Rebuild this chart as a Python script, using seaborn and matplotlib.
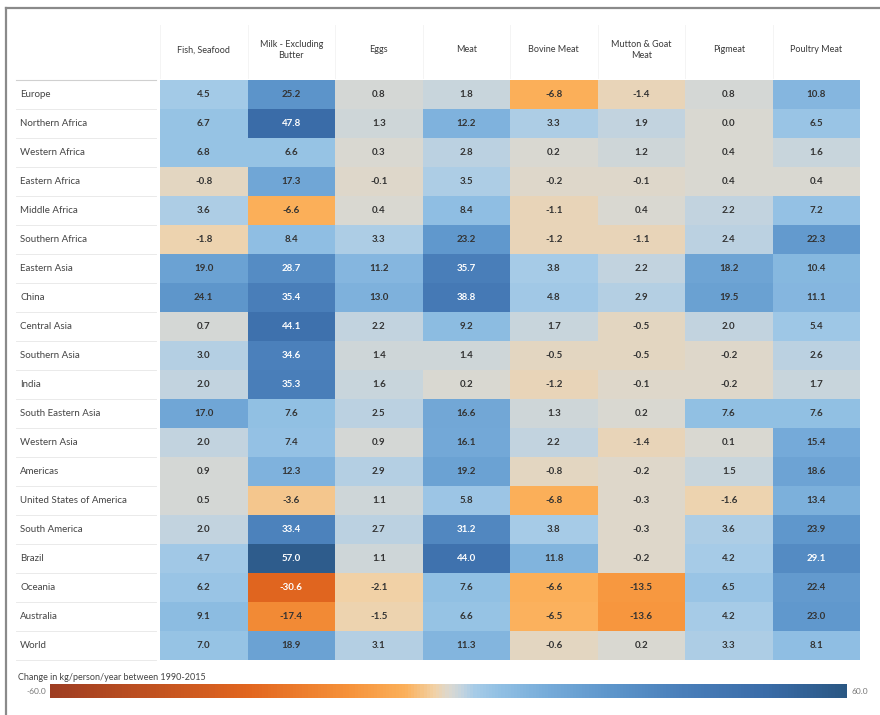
"""
Change in food supply (kg/person/year) 1990-2015, heatmap
"""
import numpy as np
import pandas as pd
import matplotlib
matplotlib.use('Agg')
import matplotlib.pyplot as plt
import seaborn as sns
from matplotlib.colors import LinearSegmentedColormap
from matplotlib.lines import Line2D
import matplotlib.transforms as mtransforms

regions = ['Europe', 'Northern Africa', 'Western Africa', 'Eastern Africa', 'Middle Africa',
           'Southern Africa', 'Eastern Asia', 'China', 'Central Asia', 'Southern Asia', 'India',
           'South Eastern Asia', 'Western Asia', 'Americas', 'United States of America',
           'South America', 'Brazil', 'Oceania', 'Australia', 'World']
items = ['Fish, Seafood', 'Milk - Excluding\nButter', 'Eggs', 'Meat', 'Bovine Meat',
         'Mutton & Goat\nMeat', 'Pigmeat', 'Poultry Meat']

fish = [4.5, 6.7, 6.8, -0.8, 3.6, -1.8, 19.0, 24.1, 0.7, 3.0, 2.0, 17.0, 2.0, 0.9, 0.5, 2.0, 4.7, 6.2, 9.1, 7.0]
milk = [25.2, 47.8, 6.6, 17.3, -6.6, 8.4, 28.7, 35.4, 44.1, 34.6, 35.3, 7.6, 7.4, 12.3, -3.6, 33.4, 57.0, -30.6, -17.4, 18.9]
eggs = [0.8, 1.3, 0.3, -0.1, 0.4, 3.3, 11.2, 13.0, 2.2, 1.4, 1.6, 2.5, 0.9, 2.9, 1.1, 2.7, 1.1, -2.1, -1.5, 3.1]
meat = [1.8, 12.2, 2.8, 3.5, 8.4, 23.2, 35.7, 38.8, 9.2, 1.4, 0.2, 16.6, 16.1, 19.2, 5.8, 31.2, 44.0, 7.6, 6.6, 11.3]
bovine = [-6.8, 3.3, 0.2, -0.2, -1.1, -1.2, 3.8, 4.8, 1.7, -0.5, -1.2, 1.3, 2.2, -0.8, -6.8, 3.8, 11.8, -6.6, -6.5, -0.6]
mutton = [-1.4, 1.9, 1.2, -0.1, 0.4, -1.1, 2.2, 2.9, -0.5, -0.5, -0.1, 0.2, -1.4, -0.2, -0.3, -0.3, -0.2, -13.5, -13.6, 0.2]
pig = [0.8, 0.0, 0.4, 0.4, 2.2, 2.4, 18.2, 19.5, 2.0, -0.2, -0.2, 7.6, 0.1, 1.5, -1.6, 3.6, 4.2, 6.5, 4.2, 3.3]
poultry = [10.8, 6.5, 1.6, 0.4, 7.2, 22.3, 10.4, 11.1, 5.4, 2.6, 1.7, 7.6, 15.4, 18.6, 13.4, 23.9, 29.1, 22.4, 23.0, 8.1]

df = pd.DataFrame(dict(zip(items, [fish, milk, eggs, meat, bovine, mutton, pig, poultry])), index=regions)

vmin, vmax = -60, 60
nodes = [(-60, '#9e3d22'), (-30, '#e2661f'), (-15, '#f6923a'), (-6.5, '#fbb05a'),
         (-2, '#f1d2a8'), (0, '#dcd8cf'), (2, '#c4d4df'), (4, '#a6cbe7'), (8, '#90bfe3'),
         (15, '#76abd9'), (25, '#5c94ca'), (35, '#4a7fba'), (48, '#3a6ca8'), (60, '#2a5783')]
cmap = LinearSegmentedColormap.from_list('orbl', [((v - vmin) / (vmax - vmin), c) for v, c in nodes])

plt.rcParams['font.family'] = ['Lato', 'DejaVu Sans']

W, H = 880, 715
fig = plt.figure(figsize=(W / 100, H / 100), dpi=100)
ax = fig.add_axes([160 / W, 1 - 660 / H, 700 / W, 580 / H])
cax = fig.add_axes([50 / W, 1 - 698 / H, 797 / W, 14 / H])

sns.heatmap(df, ax=ax, cmap=cmap, vmin=vmin, vmax=vmax, cbar_ax=cax,
            cbar_kws={'orientation': 'horizontal'}, xticklabels=False, yticklabels=False)

# cell labels
for i, r in enumerate(regions):
    for j, c in enumerate(items):
        v = df.loc[r, c]
        col = 'white' if abs(v) >= 27 else '#333333'
        ax.text(j + 0.5, i + 0.5, f'{v:.1f}', ha='center', va='center', fontsize=7,
                fontweight='bold', color=col)

lab_tr = mtransforms.blended_transform_factory(fig.transFigure, ax.transData)
for i, r in enumerate(regions):
    fig.text(20 / W, 0, r, transform=lab_tr, ha='left', va='center', fontsize=7,
             color='#444444').set_y(i + 0.5)
    ax.add_artist(Line2D([16 / W, 156 / W], [i + 1, i + 1], transform=lab_tr,
                         color='#e6e6e6', lw=0.6, clip_on=False))
ax.add_artist(Line2D([16 / W, 156 / W], [0, 0], transform=lab_tr, color='#d0d0d0',
                     lw=0.8, clip_on=False))

hdr_tr = mtransforms.blended_transform_factory(ax.transData, fig.transFigure)
for j, c in enumerate(items):
    ax.text(j + 0.5, 1 - 50 / H, c, transform=hdr_tr, ha='center', va='center',
            fontsize=6.5, color='#3a3a3a', linespacing=1.4)
    ax.add_artist(Line2D([j, j], [1 - 25 / H, 1 - 78 / H], transform=hdr_tr,
                         color='#f2f2f2', lw=0.6, clip_on=False))

cax.set_xticks([])
cax.set_yticks([])
for s in cax.spines.values():
    s.set_visible(False)
fig.text(18 / W, 1 - 677 / H, 'Change in kg/person/year between 1990-2015', fontsize=6.5,
         color='#444444', ha='left', va='center')
fig.text(46 / W, 1 - 691 / H, '-60.0', fontsize=6, color='#777777', ha='right', va='center')
fig.text(851 / W, 1 - 691 / H, '60.0', fontsize=6, color='#777777', ha='left', va='center')

# outer frame
fig.add_artist(Line2D([6 / W, 1], [1 - 8 / H, 1 - 8 / H], color='#8a8a8a', lw=1.6))
fig.add_artist(Line2D([6 / W, 6 / W], [0, 1 - 8 / H], color='#8a8a8a', lw=1.6))

fig.savefig('out.png', dpi=100)
